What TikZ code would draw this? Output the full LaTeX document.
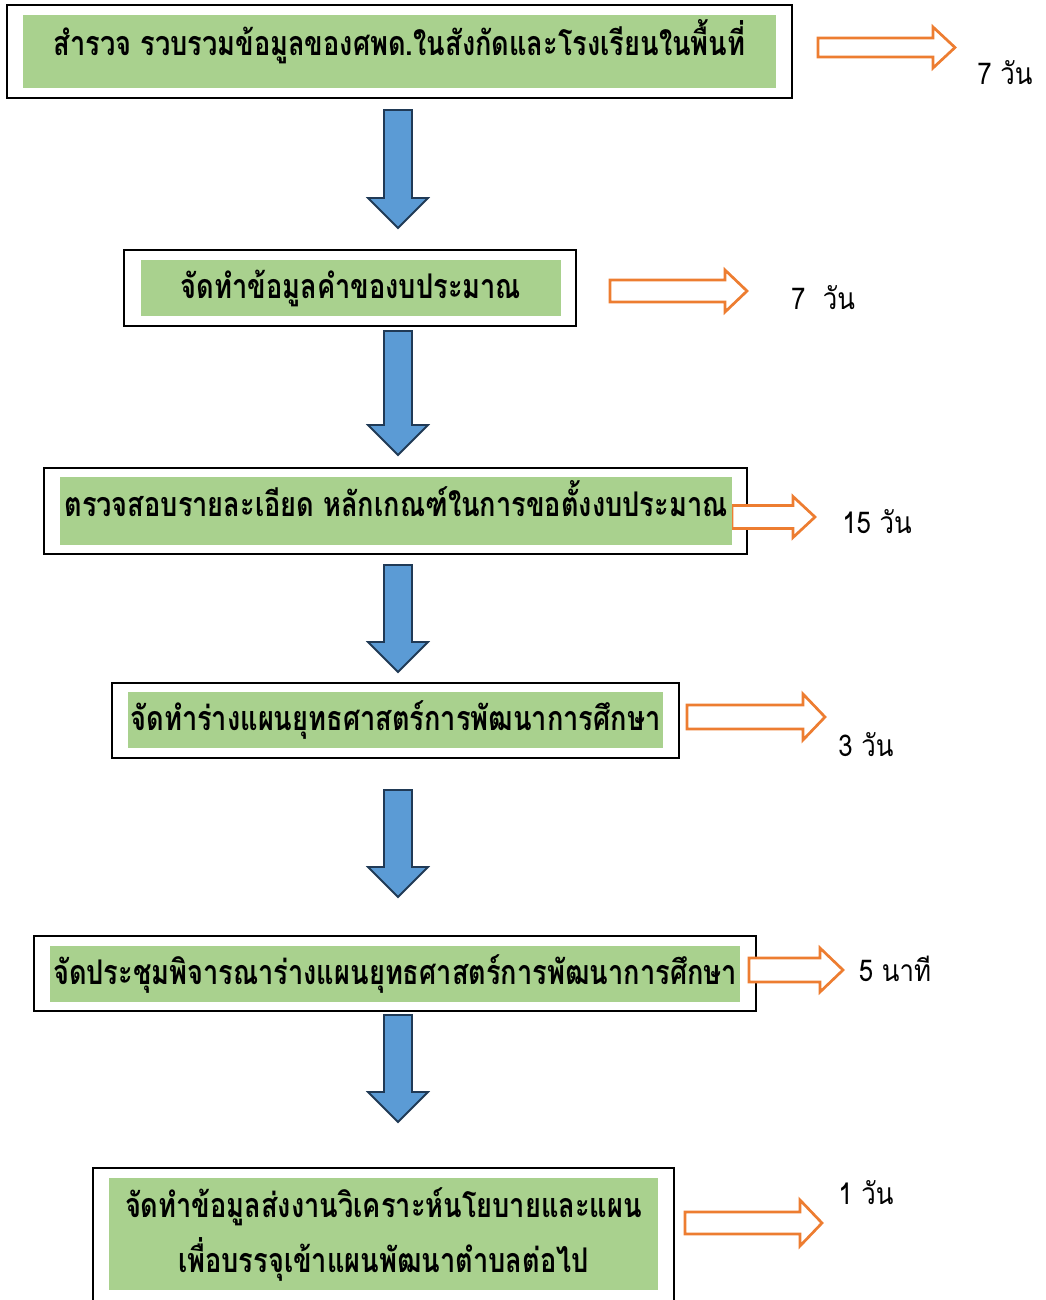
\documentclass[tikz,border=0pt]{standalone}
\usepackage{graphicx}
\usepackage{fontspec}
\setmainfont[Script=Thai]{Loma}
\definecolor{boxgreen}{HTML}{A9D18E}
\definecolor{arrowblue}{HTML}{5B9BD5}
\definecolor{arrowedge}{HTML}{203A56}
\definecolor{arroworange}{HTML}{ED7D31}
\newcommand\cond[1]{\scalebox{0.8}[1]{#1}}
\newcommand\condlab[1]{\scalebox{0.86}[1]{#1}}
\tikzset{
  outerbox/.style={draw=black, line width=1.1pt, fill=white, rectangle, inner sep=0pt},
  greenbox/.style={fill=boxgreen, rectangle, inner sep=0pt, font=\fontsize{34}{55}\selectfont\bfseries, align=center},
  bluearrow/.style={fill=arrowblue, draw=arrowedge, line width=1.8pt, line join=miter},
  orangearrow/.style={fill=white, draw=arroworange, line width=2.7pt, line join=miter},
  timelabel/.style={font=\fontsize{30}{34}\selectfont, inner sep=0pt}
}
\newcommand\downblock[3]{%
  \draw[bluearrow] (#1-14,#2) -- (#1+14,#2) -- (#1+14,#3-30) -- (#1+30,#3-30) -- (#1,#3) -- (#1-30,#3-30) -- (#1-14,#3-30) -- cycle;}
\newcommand\rightblock[6]{% x0, xbase, xtip, yc, body half, head half
  \draw[orangearrow] (#1,#4-#5) -- (#2,#4-#5) -- (#2,#4-#6) -- (#3,#4) -- (#2,#4+#6) -- (#2,#4+#5) -- (#1,#4+#5) -- cycle;}
\begin{document}
\begin{tikzpicture}[x=1pt,y=-1pt]
\useasboundingbox (0,0) rectangle (1045,1300);
% outer boxes
\node[outerbox, minimum width=785pt, minimum height=93pt] (o1) at (399.5,51.5) {};
\node[outerbox, minimum width=452pt, minimum height=76pt] (o2) at (350,288) {};
\node[outerbox, minimum width=703pt, minimum height=86pt] (o3) at (395.5,511) {};
\node[outerbox, minimum width=567pt, minimum height=75pt] (o4) at (395.5,720.5) {};
\node[outerbox, minimum width=722pt, minimum height=75pt] (o5) at (395,973.5) {};
\node[outerbox, minimum width=581pt, minimum height=140pt] (o6) at (383.5,1238) {};
% orange arrows
\rightblock{818}{933}{955}{47.5}{9.5}{20.5}
\rightblock{610}{725}{747}{291}{11}{21}
\rightblock{732}{793}{815}{517}{11.5}{20.5}
\rightblock{687}{803}{825}{717}{12}{23}
\rightblock{749}{820}{843}{970}{12}{22}
\rightblock{685}{800}{822}{1223}{11}{23}
% green boxes
\node[greenbox, minimum width=753pt, minimum height=73pt] (g1) at (399.5,51.5) {\raisebox{29pt}{\cond{สำรวจ รวบรวมข้อมูลของศพด.ในสังกัดและโรงเรียนในพื้นที่}}};
\node[greenbox, minimum width=420pt, minimum height=56pt] (g2) at (351,288) {\cond{จัดทำข้อมูลคำของบประมาณ}};
\node[greenbox, minimum width=672pt, minimum height=68pt] (g3) at (396,511) {\raisebox{25pt}{\cond{ตรวจสอบรายละเอียด หลักเกณฑ์ในการขอตั้งงบประมาณ}}};
\node[greenbox, minimum width=535pt, minimum height=56pt] (g4) at (395.5,720) {\cond{จัดทำร่างแผนยุทธศาสตร์การพัฒนาการศึกษา}};
\node[greenbox, minimum width=690pt, minimum height=56pt] (g5) at (395,974) {\cond{จัดประชุมพิจารณาร่างแผนยุทธศาสตร์การพัฒนาการศึกษา}};
\node[greenbox, minimum width=549pt, minimum height=112pt] (g6) at (383.5,1234) {\cond{จัดทำข้อมูลส่งงานวิเคราะห์นโยบายและแผน}\\\cond{เพื่อบรรจุเข้าแผนพัฒนาตำบลต่อไป}};
% blue arrows
\downblock{398}{110}{228}
\downblock{398}{331}{455}
\downblock{398}{565}{672}
\downblock{398}{790}{897}
\downblock{398}{1015}{1122}
% time labels
\node[timelabel] (t1) at (1005,73) {\condlab{7 วัน}};
\node[timelabel] (t2) at (823,298) {\condlab{7~~วัน}};
\node[timelabel] (t3) at (877,522) {\condlab{15 วัน}};
\node[timelabel] (t4) at (866,745) {\condlab{3 วัน}};
\node[timelabel] (t5) at (895,969) {\condlab{5 นาที}};
\node[timelabel] (t6) at (866,1193) {\condlab{1 วัน}};
\end{tikzpicture}
\end{document}
